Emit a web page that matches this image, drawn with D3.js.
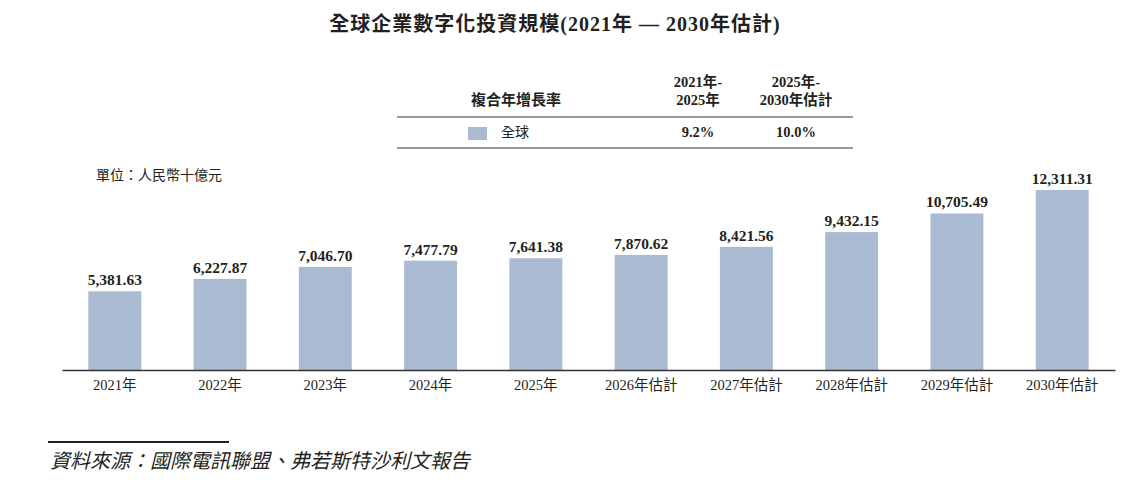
<!DOCTYPE html>
<html>
<head>
<meta charset="utf-8">
<script src="https://cdn.jsdelivr.net/npm/d3@7"></script>
<style>
  body { margin: 0; background: #fff; }
  svg text { font-family: "Liberation Serif", "Noto Sans CJK TC", serif; fill: #231f20; }
</style>
</head>
<body>
<svg id="chart"></svg>
<script>
// Global enterprise digital investment, 2021-2030E (RMB bn)
const categories = ['2021年', '2022年', '2023年', '2024年', '2025年',
  '2026年估計', '2027年估計', '2028年估計', '2029年估計', '2030年估計'];
const values = [5381.63, 6227.87, 7046.70, 7477.79, 7641.38,
  7870.62, 8421.56, 9432.15, 10705.49, 12311.31];
const cagrHeaders = [['2021年-', '2025年'], ['2025年-', '2030年估計']];
const cagrValues = ['9.2%', '10.0%'];

const W = 1131, H = 485;
const BAR_COLOR = '#aabbd1';

const svg = d3.select('#chart').attr('width', W).attr('height', H);

// title
svg.append('text')
  .attr('x', 555).attr('y', 31)
  .attr('text-anchor', 'middle')
  .attr('font-size', 20).attr('font-weight', 'bold')
  .attr('letter-spacing', 1)
  .text('全球企業數字化投資規模(2021年 — 2030年估計)');

// CAGR table
const colX = [698, 796];
svg.append('text')
  .attr('x', 471).attr('y', 105)
  .attr('font-size', 15).attr('font-weight', 'bold')
  .text('複合年增長率');
cagrHeaders.forEach((h, i) => {
  h.forEach((line, j) => {
    svg.append('text')
      .attr('x', colX[i]).attr('y', 87 + j * 18)
      .attr('text-anchor', 'middle')
      .attr('font-size', 14.5).attr('font-weight', 'bold')
      .text(line);
  });
});
svg.append('line')
  .attr('x1', 397).attr('x2', 853).attr('y1', 117).attr('y2', 117)
  .attr('stroke', '#777').attr('stroke-width', 1.5);
svg.append('line')
  .attr('x1', 397).attr('x2', 853).attr('y1', 148).attr('y2', 148)
  .attr('stroke', '#777').attr('stroke-width', 1.5);
svg.append('rect')
  .attr('x', 468).attr('y', 127).attr('width', 19).attr('height', 13)
  .attr('fill', BAR_COLOR);
svg.append('text')
  .attr('x', 501).attr('y', 137)
  .attr('font-size', 14)
  .attr('fill', '#333')
  .text('全球');
cagrValues.forEach((v, i) => {
  svg.append('text')
    .attr('x', colX[i]).attr('y', 137)
    .attr('text-anchor', 'middle')
    .attr('font-size', 14.5).attr('font-weight', 'bold')
    .text(v);
});

// unit
svg.append('text')
  .attr('x', 96).attr('y', 180)
  .attr('font-size', 14)
  .attr('fill', '#333')
  .text('單位：人民幣十億元');

// bars
const x = d3.scaleBand().domain(categories).range([62, 1115])
  .paddingInner(0.497).paddingOuter(0.25);
const y = d3.scaleLinear().domain([0, 12311.31]).range([370, 190]);

svg.selectAll('rect.bar')
  .data(values)
  .join('rect')
  .attr('class', 'bar')
  .attr('x', (d, i) => x(categories[i]))
  .attr('y', d => y(d))
  .attr('width', x.bandwidth())
  .attr('height', d => y(0) - y(d))
  .attr('fill', BAR_COLOR);

const fmt = d3.format(',.2f');
svg.selectAll('text.val')
  .data(values)
  .join('text')
  .attr('class', 'val')
  .attr('x', (d, i) => x(categories[i]) + x.bandwidth() / 2)
  .attr('y', d => y(d) - 6)
  .attr('text-anchor', 'middle')
  .attr('font-size', 15.5).attr('font-weight', 'bold')
  .text(d => fmt(d));

// x axis
const xAxis = svg.append('g')
  .attr('transform', 'translate(0,370)')
  .call(d3.axisBottom(x).tickSize(0).tickPadding(10));
xAxis.select('.domain').attr('stroke', '#333').attr('stroke-width', 1.5);
xAxis.selectAll('.tick text')
  .attr('font-size', 14.5)
  .attr('font-family', '"Liberation Serif", "Noto Sans CJK TC", serif')
  .attr('fill', '#333');

// source
svg.append('line')
  .attr('x1', 48).attr('x2', 229).attr('y1', 442).attr('y2', 442)
  .attr('stroke', '#231f20').attr('stroke-width', 2);
svg.append('text')
  .attr('x', 50).attr('y', 468)
  .attr('font-size', 20).attr('font-style', 'italic')
  .attr('fill', '#333')
  .text('資料來源：國際電訊聯盟、弗若斯特沙利文報告');
</script>
</body>
</html>
